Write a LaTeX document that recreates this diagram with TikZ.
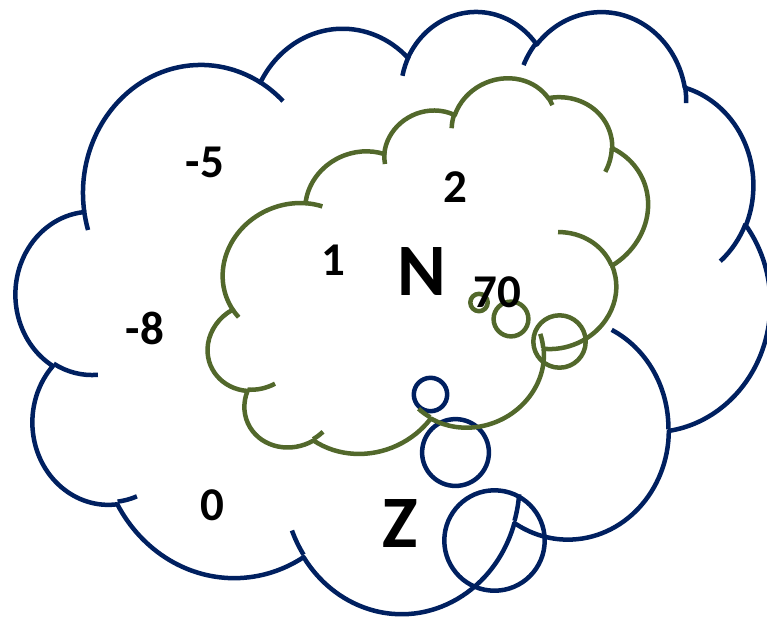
\documentclass[tikz,border=0pt]{standalone}
\usepackage{fontspec}
\setmainfont{Carlito}
\definecolor{cloudblue}{HTML}{002060}
\definecolor{cloudgreen}{HTML}{52682B}
\tikzset{
  oox/.code n args={4}{%
    \pgfmathsetmacro\oxa{#3}%
    \pgfmathsetmacro\oxb{(#3)+(#4)}%
    \pgfmathsetmacro\oxs{atan2((#1)*sin(\oxa),(#2)*cos(\oxa))-(\oxa)}%
    \pgfmathsetmacro\oxs{(\oxa)+(\oxs)-360*round((\oxs)/360)}%
    \pgfmathsetmacro\oxe{atan2((#1)*sin(\oxb),(#2)*cos(\oxb))-(\oxb)}%
    \pgfmathsetmacro\oxe{(\oxb)+(\oxe)-360*round((\oxe)/360)}%
    \edef\oxtmp{\noexpand\tikzset{start angle=\oxs,end angle=\oxe,x radius=#1,y radius=#2}}%
    \oxtmp},
  sm/.style={font=\bfseries\fontsize{47}{47}\selectfont, inner sep=0pt, text=black},
  bg/.style={font=\bfseries\fontsize{74}{74}\selectfont, inner sep=0pt, text=black}
}
\newcommand\cloudshape{%
\draw (39.00,143.70)
 arc[oox={67.53}{91.90}{-190.487483}{123.780533}]
 arc[oox={53.33}{72.67}{-144.102383}{89.945233}]
 arc[oox={43.65}{59.45}{-145.807917}{99.723017}]
 arc[oox={48.57}{65.95}{-130.986067}{117.241733}]
 arc[oox={53.33}{72.73}{-78.708883}{109.026917}]
 arc[oox={67.75}{92.20}{-46.26725}{130.269}]
 arc[oox={57.85}{78.67}{0.625017}{114.033333}]
 arc[oox={67.52}{92.15}{22.4516}{115.17255}]
 arc[oox={77.20}{105.43}{66.242633}{75.711017}]
 arc[oox={43.60}{59.18}{-274.942083}{146.735567}]
 arc[oox={43.45}{59.45}{-246.8285}{152.51885}]
 -- cycle;
\draw
 (46.93,261.77) arc[oox={43.45}{59.45}{86.742}{26.4295}]
 (69.28,348.99) arc[oox={43.60}{59.18}{73.610467}{11.447467}]
 (164.78,390.90) arc[oox={67.52}{92.15}{137.62415}{14.0811}]
 (288.27,347.51) arc[oox={67.52}{92.15}{6.453267}{15.99835}]
 (341.29,229.54) arc[oox={57.85}{78.67}{-70.29235}{70.917367}]
 (417.98,153.54) arc[oox={53.33}{72.73}{30.318033}{27.7515}]
 (383.24,54.26) arc[oox={48.57}{65.95}{-13.744333}{14.8589}]
 (290.78,39.52) arc[oox={48.57}{65.95}{-149.18145}{18.195367}]
 (221.41,47.20) arc[oox={43.65}{59.45}{-163.494267}{17.68635}]
 (140.00,51.92) arc[oox={67.53}{91.90}{-66.70695}{12.31935}]
 (41.27,157.89) arc[oox={67.53}{91.90}{157.65435}{11.858167}];
}
\begin{document}
\begin{tikzpicture}[x=1pt,y=1pt,line width=4.5pt,line join=round]
\useasboundingbox (0,0) rectangle (767,-619);
% outer (blue) cloud callout
\begin{scope}[draw=cloudblue, shift={(393,-311)}, xscale=1.74537, yscale=-1.39352, shift={(-216,-216)}]
\cloudshape
\end{scope}
\draw[cloudblue] (430.5,-394.5) circle[radius=16.7];
\draw[cloudblue] (455.5,-452.5) circle[radius=33.4];
\draw[cloudblue] (494.5,-540.5) circle[radius=50.2];
% inner (green) cloud callout, rotated
\begin{scope}[draw=cloudgreen, shift={(429.5,-278.5)}, rotate=24, xscale=1.08796, yscale=-0.72685, shift={(-216,-216)}]
\cloudshape
\end{scope}
\draw[cloudgreen] (479,-302.5) circle[radius=8.7];
\draw[cloudgreen] (511,-319) circle[radius=17.4];
\draw[cloudgreen] (559.5,-341.5) circle[radius=26.2];
% labels
\node[sm] (tm5) at (205,-162) {-5};
\node[sm] (tm8) at (145,-328) {-8};
\node[sm] (t0) at (212.5,-505) {0};
\node[sm] (t1) at (333.5,-260) {1};
\node[sm] (t2) at (455,-187) {2};
\node[sm] (t70) at (497.5,-292.5) {70};
\node[bg] (tN) at (422,-271.5) {N};
\node[bg] (tZ) at (400,-523.5) {Z};
\end{tikzpicture}
\end{document}
